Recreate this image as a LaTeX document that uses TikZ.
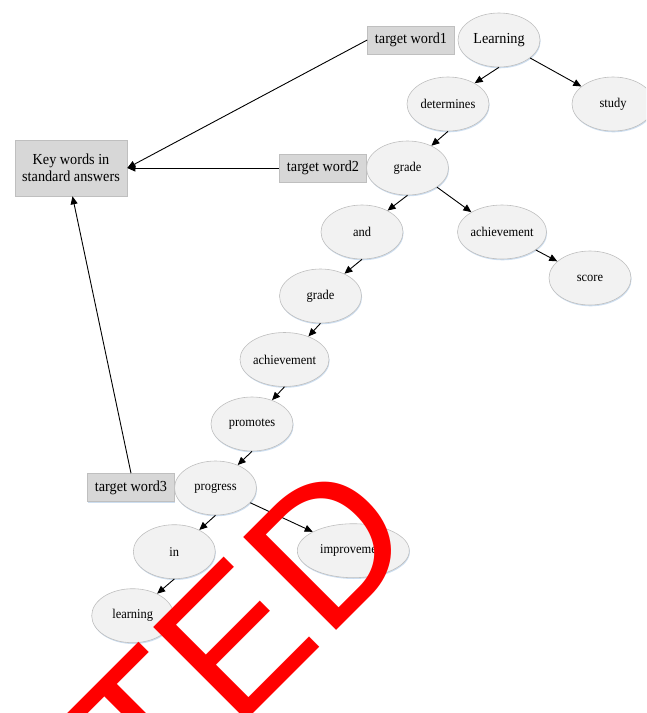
\documentclass[tikz,border=0pt]{standalone}
\usepackage{fontspec}
\setmainfont{Liberation Serif}[FakeStretch=0.93]
\newfontfamily\stampfont{Liberation Sans}
\usetikzlibrary{shapes.geometric,arrows.meta,shadows}
\definecolor{ellfill}{RGB}{242,242,242}
\definecolor{ellline}{RGB}{191,191,191}
\definecolor{boxfill}{RGB}{215,215,215}
\definecolor{shadowblue}{RGB}{205,222,240}
\definecolor{stampred}{RGB}{255,0,0}
\begin{document}
\begin{tikzpicture}[x=1pt,y=-1pt,
  word/.style={ellipse, draw=ellline, line width=0.6pt, fill=ellfill,
    minimum width=82pt, minimum height=54pt, inner sep=0pt,
    font=\fontsize{13.4}{15}\selectfont,
    drop shadow={shadow xshift=0.6pt, shadow yshift=-1.3pt, fill=shadowblue, opacity=1}},
  bigword/.style={word, font=\fontsize{15.3}{17}\selectfont},
  tagbox/.style={rectangle, draw=ellline, line width=0.6pt, fill=boxfill,
    minimum width=87pt, minimum height=28pt, inner sep=0pt,
    font=\fontsize{15.3}{17}\selectfont,
    drop shadow={shadow xshift=0.6pt, shadow yshift=-1.3pt, fill=shadowblue, opacity=1}},
  conn/.style={-{Triangle[length=8pt,width=7pt]}, line width=0.9pt, black}]
\useasboundingbox (0,0) rectangle (646,713);
\clip (0,0) rectangle (646,713);
% nodes
\node[tagbox, minimum width=112pt, minimum height=56pt, align=center] (key) at (71,168) {Key words in\\standard answers};
\node[tagbox] (tw1) at (411,40) {target word1};
\node[tagbox] (tw2) at (323,168) {target word2};
\node[tagbox] (tw3) at (131,487.5) {target word3};
\node[bigword] (learn) at (499,40) {Learning};
\node[word] (det) at (448,104) {determines};
\node[word] (study) at (613,104) {study};
\node[word] (grade) at (407.5,168) {grade};
\node[word] (and) at (362,232) {and};
\node[word, minimum width=86pt] (ach) at (502,232) {achievement};
\node[word] (score) at (590,278) {score};
\node[word] (grade2) at (320.5,296) {grade};
\node[word, minimum width=87pt] (ach2) at (284.5,359.5) {achievement};
\node[word] (prom) at (252,424) {promotes};
\node[word] (prog) at (215.5,488) {progress};
\node[word] (in) at (174.3,551.7) {in};
\node[word, minimum width=112pt] (impr) at (353.3,550.7) {improvement};
\node[word] (learning) at (132.7,615.7) {learning};
% connectors
\draw[conn] (learn.south) -- (det.38);
\draw[conn] (learn.-30) -- (study.151);
\draw[conn] (det.south) -- (grade.43);
\draw[conn] (tw1.west) -- (key.east);
\draw[conn] (tw2.west) -- (key.east);
\draw[conn] (tw3.north) -- (key.-87);
\draw[conn] (grade.south) -- (and.40);
\draw[conn] (grade.-33) -- (ach.147);
\draw[conn] (ach.-28) -- (score.153);
\draw[conn] (and.south) -- (grade2.43);
\draw[conn] (grade2.south) -- (ach2.44);
\draw[conn] (ach2.south) -- (prom.50);
\draw[conn] (prom.south) -- (prog.46);
\draw[conn] (prog.south) -- (in.41);
\draw[conn] (prog.-23) -- (impr.155);
\draw[conn] (in.south) -- (learning.42);
% stamp
\node[anchor=base west, rotate=45, inner sep=0pt, text=stampred,
  font=\stampfont\fontsize{191}{191}\selectfont] (stamp) at (152.8,814.2) {TED};
\end{tikzpicture}
\end{document}
